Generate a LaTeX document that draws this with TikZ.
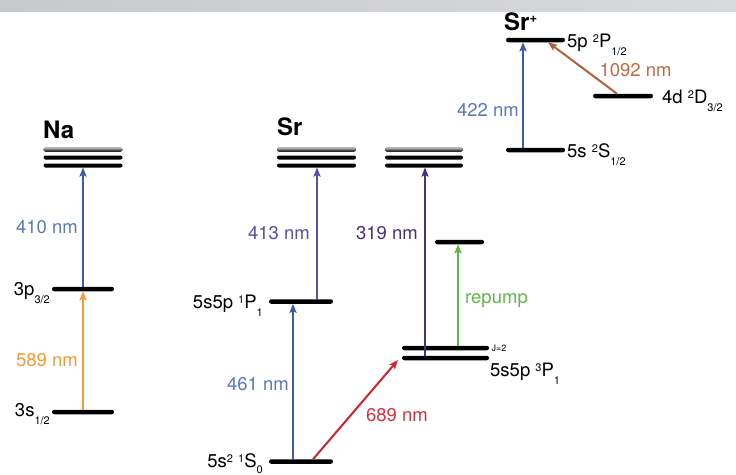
\documentclass[tikz,border=0pt]{standalone}
\usepackage{fontspec}
\setmainfont{TeX Gyre Heros}
\usetikzlibrary{arrows.meta,calc}
\definecolor{cblue}{HTML}{3D5BAA}
\definecolor{cbluet}{HTML}{5B78C2}
\definecolor{cviol}{HTML}{5A4EA8}
\definecolor{cpurp}{HTML}{4A2E80}
\definecolor{corange}{HTML}{F79A35}
\definecolor{cred}{HTML}{D2232E}
\definecolor{credt}{HTML}{D83040}
\definecolor{cgreen}{HTML}{5DB94A}
\definecolor{cbrown}{HTML}{B45E3A}
\definecolor{cbrownt}{HTML}{BF6A48}
\definecolor{bartl}{HTML}{C8C9CB}
\definecolor{bartr}{HTML}{D9DADC}
\newcommand\usp[1]{\raisebox{5pt}{\fontsize{11}{11}\selectfont #1}}
\newcommand\usb[1]{\raisebox{-8pt}{\fontsize{11}{11}\selectfont #1}}
\newcommand\usbz[1]{\raisebox{-6pt}{\fontsize{11}{11}\selectfont #1}}
\begin{document}
\begin{tikzpicture}[x=1pt,y=-1pt,
  lvl/.style={fill=black, rounded corners=2.2pt, inner sep=0pt, outer sep=0pt, minimum height=4.5pt},
  tri/.style={fill=black, rounded corners=2pt, inner sep=0pt, outer sep=0pt, minimum height=4pt},
  tritop/.style={tri, top color=gray!45, bottom color=black},
  arr/.style={line width=2pt, -{Stealth[length=9pt,width=7pt,inset=1.5pt]}},
  nm/.style={inner sep=0pt, font=\fontsize{18.5}{18.5}\selectfont},
  lab/.style={inner sep=0pt, font=\fontsize{18.5}{18.5}\selectfont},
  ttl/.style={inner sep=0pt, font=\bfseries\fontsize{24}{24}\selectfont}]
\useasboundingbox (0,0) rectangle (736,474);
\shade[left color=bartl, right color=bartr] (0,0) rectangle (736,11.5);

% ---------- Na ----------
\node[ttl, anchor=base west] (naname) at (43,138) {Na};
\node[tritop, minimum width=79pt] (naT1) at (83,149.5) {};
\node[tri, minimum width=79pt] (naT2) at (83,157.5) {};
\node[tri, minimum width=79pt] (naT3) at (83,165.5) {};
\node[lvl, minimum width=62pt] (na3p) at (83,289) {};
\node[lvl, minimum width=62pt] (na3s) at (83,412) {};
\draw[arr, corange] (na3s.north) -- (na3p.south);
\draw[arr, cblue] (na3p.north) -- (naT3.south);
\node[nm, text=cbluet, anchor=east] (l410) at (78,227) {410 nm};
\node[nm, text=corange, anchor=east] (l589) at (78,360) {589 nm};
\node[lab, anchor=base east] (t3p) at (50,295) {3p\usb{3/2}};
\node[lab, anchor=base east] (t3s) at (50,416) {3s\usb{1/2}};

% ---------- Sr ----------
\node[ttl, anchor=base west] (srname) at (277,135) {Sr};
\node[tritop, minimum width=79pt] (srTa1) at (316.5,149.5) {};
\node[tri, minimum width=79pt] (srTa2) at (316.5,157.5) {};
\node[tri, minimum width=79pt] (srTa3) at (316.5,165.5) {};
\node[tritop, minimum width=78pt] (srTb1) at (424,149.5) {};
\node[tri, minimum width=78pt] (srTb2) at (424,157.5) {};
\node[tri, minimum width=78pt] (srTb3) at (424,165.5) {};
\node[lvl, minimum width=64pt] (srP) at (301,301.5) {};
\node[lvl, minimum width=64pt] (srS) at (301,461.5) {};
\node[lvl, minimum width=87pt] (srJ) at (445.5,348) {};
\node[lvl, minimum width=87pt] (sr3P) at (445.5,358) {};
\node[lvl, minimum width=49pt] (srR) at (459.5,242) {};

\draw[arr, cblue] ([xshift=-8pt]srS.north) -- ([xshift=-8pt]srP.south);
\draw[arr, cviol] ([xshift=16pt]srP.north) -- ([xshift=0.5pt]srTa3.south);
\draw[arr, cpurp] ([xshift=-20.5pt]sr3P.north) -- ([xshift=1pt]srTb3.south);
\draw[arr, cgreen] ([xshift=12.5pt]srJ.north) -- ([xshift=-1.5pt]srR.south);
\draw[arr, cred] ([xshift=12pt]srS.north) -- ([xshift=-4pt,yshift=-2pt]sr3P.west);

\node[nm, text=cbluet, anchor=east] (l461) at (289,384) {461 nm};
\node[nm, text=cviol, anchor=east] (l413) at (310,233) {413 nm};
\node[nm, text=cpurp, anchor=east] (l319) at (418,233) {319 nm};
\node[nm, text=credt] (l689) at (397,415) {689 nm};
\node[nm, text=cgreen, anchor=west] (lrep) at (465,301) {repump};
\node[inner sep=0pt, font=\fontsize{9}{9}\selectfont, anchor=west] (lJ) at (491.5,348) {J=2};
\node[lab, anchor=base west] (t3P1) at (490,376) {5s5p \usp{3}P\usb{1}};
\node[lab, anchor=base east] (t1P1) at (263,308) {5s5p \usp{1}P\usb{1}};
\node[lab, anchor=base east] (t1S0) at (263,467) {5s\usp{2} \usp{1}S\usbz{0}};

% ---------- Sr+ ----------
\node[ttl, anchor=base west] (ionname) at (504,30) {Sr\raisebox{8pt}{\fontsize{13}{13}\selectfont +}};
\node[lvl, minimum width=59pt] (ip5p) at (535.5,40) {};
\node[lvl, minimum width=59pt] (ip5s) at (535.5,150) {};
\node[lvl, minimum width=60pt] (ip4d) at (623,96) {};
\draw[arr, cblue] ([xshift=-12.5pt]ip5s.north) -- ([xshift=-12.5pt]ip5p.south);
\draw[arr, cbrown] ([xshift=-6pt]ip4d.north) -- ([xshift=12.5pt]ip5p.south);
\node[nm, text=cbluet, anchor=east] (l422) at (519,110) {422 nm};
\node[nm, text=cbrownt] (l1092) at (635.5,70) {1092 nm};
\node[lab, anchor=base west] (t5p) at (567,47) {5p \usp{2}P\usb{1/2}};
\node[lab, anchor=base west] (t5s) at (567,157) {5s \usp{2}S\usb{1/2}};
\node[lab, anchor=base west] (t4d) at (662,103) {4d \usp{2}D\usb{3/2}};
\end{tikzpicture}
\end{document}
